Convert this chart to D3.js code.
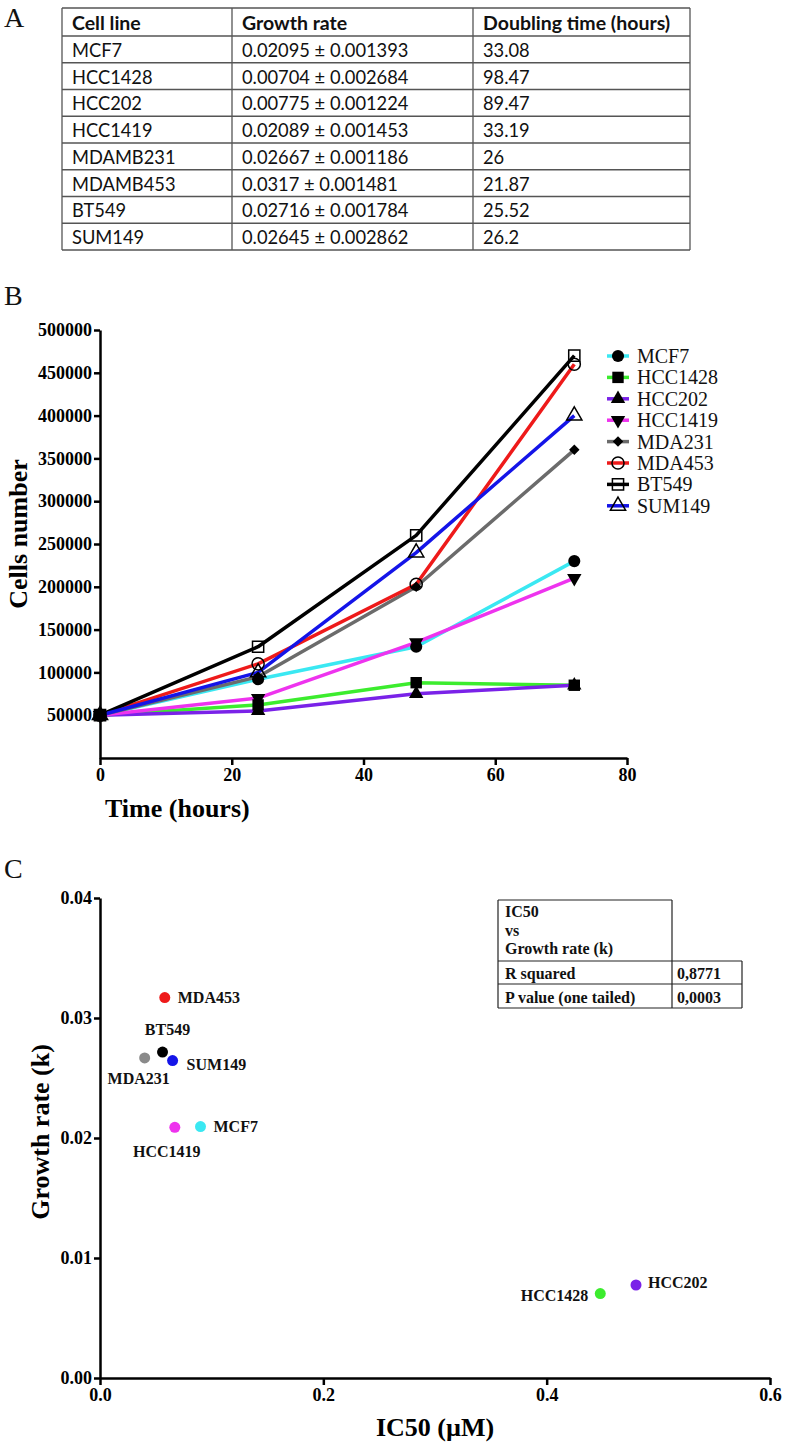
<!DOCTYPE html>
<html><head><meta charset="utf-8">
<script src="https://cdn.jsdelivr.net/npm/d3@7"></script>
<style>
html,body{margin:0;padding:0;background:#fff;}
svg{display:block;}
</style></head>
<body>
<script>
// ---------- DATA ----------
// Panel A table
const tableHeaders = ["Cell line", "Growth rate", "Doubling time (hours)"];
const tableCellLines = ["MCF7", "HCC1428", "HCC202", "HCC1419", "MDAMB231", "MDAMB453", "BT549", "SUM149"];
const tableGrowthRates = ["0.02095 ± 0.001393", "0.00704 ± 0.002684", "0.00775 ± 0.001224", "0.02089 ± 0.001453",
  "0.02667 ± 0.001186", "0.0317 ± 0.001481", "0.02716 ± 0.001784", "0.02645 ± 0.002862"];
const tableDoublingTimes = ["33.08", "98.47", "89.47", "33.19", "26", "21.87", "25.52", "26.2"];

// Panel B growth curves
const timePoints = [0, 24, 48, 72];
const seriesNames = ["MCF7", "HCC1428", "HCC202", "HCC1419", "MDA231", "MDA453", "BT549", "SUM149"];
const mcf7Cells    = [50000, 92000, 130000, 230000];
const hcc1428Cells = [50000, 62000, 88000, 85000];
const hcc202Cells  = [50000, 55000, 75000, 85000];
const hcc1419Cells = [50000, 70000, 135000, 210000];
const mda231Cells  = [50000, 95000, 200000, 360000];
const mda453Cells  = [50000, 110000, 203000, 460000];
const bt549Cells   = [50000, 130000, 260000, 470000];
const sum149Cells  = [50000, 100000, 240000, 400000];
const cellsTicks = [50000, 100000, 150000, 200000, 250000, 300000, 350000, 400000, 450000, 500000];
const timeTicks = [0, 20, 40, 60, 80];

// Panel C scatter
const scatterNames = ["MCF7", "HCC1428", "HCC202", "HCC1419", "MDA231", "MDA453", "BT549", "SUM149"];
const ic50Values   = [0.090, 0.448, 0.480, 0.067, 0.040, 0.058, 0.056, 0.065];
const growthK      = [0.02095, 0.00704, 0.00775, 0.02089, 0.02667, 0.0317, 0.02716, 0.02645];
const kTicks = [0, 0.01, 0.02, 0.03, 0.04];
const ic50Ticks = [0, 0.2, 0.4, 0.6];
const statsHeader = ["IC50", "vs", "Growth rate (k)"];
const statsLabels = ["R squared", "P value (one tailed)"];
const statsValues = ["0,8771", "0,0003"];

// ---------- STYLE ----------
const seriesData = [mcf7Cells, hcc1428Cells, hcc202Cells, hcc1419Cells, mda231Cells, mda453Cells, bt549Cells, sum149Cells];
const seriesColors = ["#3ae8f2", "#3cec2e", "#7a22e8", "#ee33ee", "#6b6b6b", "#ee1a1a", "#000000", "#1414e8"];
const seriesSymbols = [
  {t: d3.symbolCircle, s: 115, rot: 0, open: false},
  {t: d3.symbolSquare, s: 130, rot: 0, open: false},
  {t: d3.symbolTriangle, s: 90, rot: 0, open: false},
  {t: d3.symbolTriangle, s: 90, rot: 180, open: false},
  {t: d3.symbolSquare, s: 55, rot: 45, open: false},
  {t: d3.symbolCircle, s: 115, rot: 0, open: true},
  {t: d3.symbolSquare, s: 125, rot: 0, open: true},
  {t: d3.symbolTriangle, s: 100, rot: 0, open: true}
];
const scatterColors = ["#3ae8f2", "#3cec2e", "#7a22e8", "#ee33ee", "#8a8a8a", "#ee1a1a", "#000000", "#1414e8"];
// label placement: [dx, dy, anchor]
const scatterLabelLayout = {
  "MCF7": [13, 5, "start"], "HCC1428": [-12, 7, "end"], "HCC202": [12, 3, "start"],
  "HCC1419": [-8, 30, "middle"], "MDA231": [-6, 26, "middle"], "MDA453": [13, 5, "start"],
  "BT549": [5, -17, "middle"], "SUM149": [14, 9, "start"]
};

const serif = "'Liberation Serif','Times New Roman',serif";
const tableFont = "Lato, 'Open Sans', sans-serif";

const svg = d3.select("body").append("svg").attr("width", 786).attr("height", 1447);
svg.append("rect").attr("width", 786).attr("height", 1447).attr("fill", "#fff");

// panel letters
[["A", 27], ["B", 305], ["C", 878]].forEach(([t, y]) => {
  svg.append("text").attr("x", 4).attr("y", y).text(t)
    .attr("font-family", serif).attr("font-size", 28).attr("fill", "#111");
});

// ---------- PANEL A ----------
(function () {
  const colX = [62, 232, 473, 690];
  const top = 8, headH = 28, rowH = 26.75;
  const g = svg.append("g");
  const nRows = tableCellLines.length;
  const bottom = top + headH + rowH * nRows;
  const rows = tableCellLines.map((c, i) => [c, tableGrowthRates[i], tableDoublingTimes[i]]);
  const lineColor = "#555";
  const ys = [top, top + headH].concat(d3.range(1, nRows + 1).map(i => top + headH + rowH * i));
  ys.forEach(y => g.append("line").attr("x1", colX[0]).attr("x2", colX[3]).attr("y1", y).attr("y2", y)
    .attr("stroke", lineColor).attr("stroke-width", 1.3));
  colX.forEach(x => g.append("line").attr("x1", x).attr("x2", x).attr("y1", top).attr("y2", bottom)
    .attr("stroke", lineColor).attr("stroke-width", 1.3));
  tableHeaders.forEach((h, j) => g.append("text").attr("x", colX[j] + 10).attr("y", top + headH - 6)
    .text(h).attr("font-family", tableFont).attr("font-weight", "bold")
    .attr("font-size", 19.5).attr("fill", "#111"));
  rows.forEach((r, i) => r.forEach((v, j) => g.append("text").attr("x", colX[j] + 10)
    .attr("y", top + headH + rowH * (i + 1) - 6).text(v)
    .attr("font-family", tableFont).attr("font-size", 18.3).attr("fill", "#111")));
})();

// ---------- PANEL B ----------
(function () {
  const x = d3.scaleLinear().domain([0, 80]).range([100, 627]);
  const y = d3.scaleLinear().domain([0, 500000]).range([758, 330]);
  const g = svg.append("g");

  const yAxis = g.append("g").attr("transform", `translate(${x(0)},0)`)
    .call(d3.axisLeft(y).tickValues(cellsTicks).tickFormat(d3.format("d")).tickSize(6).tickSizeOuter(0).tickPadding(2));
  const xAxis = g.append("g").attr("transform", `translate(0,${y(0)})`)
    .call(d3.axisBottom(x).tickValues(timeTicks).tickFormat(d3.format("d")).tickSize(7).tickSizeOuter(0).tickPadding(3));
  [yAxis, xAxis].forEach(a => {
    a.selectAll("path,line").attr("stroke", "#000").attr("stroke-width", 2.5);
    a.selectAll("text").attr("font-family", serif).attr("font-weight", "bold").attr("font-size", 18).attr("fill", "#000");
  });

  g.append("text").attr("x", 105).attr("y", 817).text("Time (hours)")
    .attr("font-family", serif).attr("font-weight", "bold").attr("font-size", 26);
  g.append("text").attr("transform", "translate(27,534) rotate(-90)").attr("text-anchor", "middle")
    .text("Cells number").attr("font-family", serif).attr("font-weight", "bold").attr("font-size", 26);

  const line = d3.line().x((d, i) => x(timePoints[i])).y(d => y(d));
  seriesData.forEach((s, k) => {
    g.append("path").datum(s).attr("d", line).attr("fill", "none")
      .attr("stroke", seriesColors[k]).attr("stroke-width", 3.5).attr("stroke-linejoin", "round");
  });
  const sym = k => d3.symbol().type(seriesSymbols[k].t).size(seriesSymbols[k].s)();
  seriesData.forEach((s, k) => {
    const sp = seriesSymbols[k];
    g.selectAll(null).data(s).enter().append("path").attr("d", sym(k))
      .attr("transform", (d, i) => `translate(${x(timePoints[i])},${y(d)}) rotate(${sp.rot})`)
      .attr("fill", sp.open ? "none" : "#000").attr("stroke", "#000").attr("stroke-width", sp.open ? 1.5 : 0);
  });

  // legend
  const lg = g.append("g");
  seriesNames.forEach((n, k) => {
    const cy = 356 + k * 21.4;
    const sp = seriesSymbols[k];
    lg.append("line").attr("x1", 607).attr("x2", 629).attr("y1", cy).attr("y2", cy)
      .attr("stroke", seriesColors[k]).attr("stroke-width", 3.5);
    lg.append("path").attr("d", sym(k)).attr("transform", `translate(618,${cy}) rotate(${sp.rot})`)
      .attr("fill", sp.open ? "none" : "#000").attr("stroke", "#000").attr("stroke-width", sp.open ? 1.5 : 0);
    lg.append("text").attr("x", 637).attr("y", cy + 7).text(n)
      .attr("font-family", serif).attr("font-size", 20).attr("fill", "#111");
  });
})();

// ---------- PANEL C ----------
(function () {
  const x = d3.scaleLinear().domain([0, 0.6]).range([100, 770]);
  const y = d3.scaleLinear().domain([0, 0.04]).range([1378, 898]);
  const g = svg.append("g");
  const yAxis = g.append("g").attr("transform", `translate(${x(0)},0)`)
    .call(d3.axisLeft(y).tickValues(kTicks).tickFormat(d3.format(".2f")).tickSize(6).tickSizeOuter(0).tickPadding(2));
  const xAxis = g.append("g").attr("transform", `translate(0,${y(0)})`)
    .call(d3.axisBottom(x).tickValues(ic50Ticks).tickFormat(d3.format(".1f")).tickSize(7).tickSizeOuter(0).tickPadding(3));
  [yAxis, xAxis].forEach(a => {
    a.selectAll("path,line").attr("stroke", "#000").attr("stroke-width", 2.5);
    a.selectAll("text").attr("font-family", serif).attr("font-weight", "bold").attr("font-size", 18).attr("fill", "#000");
  });

  g.append("text").attr("x", 435).attr("y", 1436).attr("text-anchor", "middle").text("IC50 (µM)")
    .attr("font-family", serif).attr("font-weight", "bold").attr("font-size", 26);
  g.append("text").attr("transform", "translate(49,1132) rotate(-90)").attr("text-anchor", "middle")
    .text("Growth rate (k)").attr("font-family", serif).attr("font-weight", "bold").attr("font-size", 26);

  scatterNames.forEach((n, i) => {
    const cx = x(ic50Values[i]), cy = y(growthK[i]);
    g.append("circle").attr("cx", cx).attr("cy", cy).attr("r", 5.5).attr("fill", scatterColors[i]);
    const L = scatterLabelLayout[n];
    g.append("text").attr("x", cx + L[0]).attr("y", cy + L[1]).attr("text-anchor", L[2]).text(n)
      .attr("font-family", serif).attr("font-weight", "bold").attr("font-size", 16).attr("fill", "#111");
  });

  // stats table
  const tg = g.append("g");
  const L = 498, M = 672, R = 742, T = 900, H1 = 961, H2 = 984, H3 = 1008;
  const ln = (x1, y1, x2, y2) => tg.append("line").attr("x1", x1).attr("y1", y1).attr("x2", x2).attr("y2", y2)
    .attr("stroke", "#222").attr("stroke-width", 1.2);
  ln(L, T, M, T); ln(L, H1, R, H1); ln(L, H2, R, H2); ln(L, H3, R, H3);
  ln(L, T, L, H3); ln(M, T, M, H3); ln(R, H1, R, H3);
  const tt = (t, xx, yy) => tg.append("text").attr("x", xx).attr("y", yy).text(t)
    .attr("font-family", serif).attr("font-weight", "bold").attr("font-size", 16).attr("fill", "#111");
  statsHeader.forEach((t, i) => tt(t, 505, 917 + i * 18.5));
  statsLabels.forEach((t, i) => tt(t, 505, 979 + i * 24));
  statsValues.forEach((t, i) => tt(t, 677, 979 + i * 24));
})();
</script>
</body></html>
